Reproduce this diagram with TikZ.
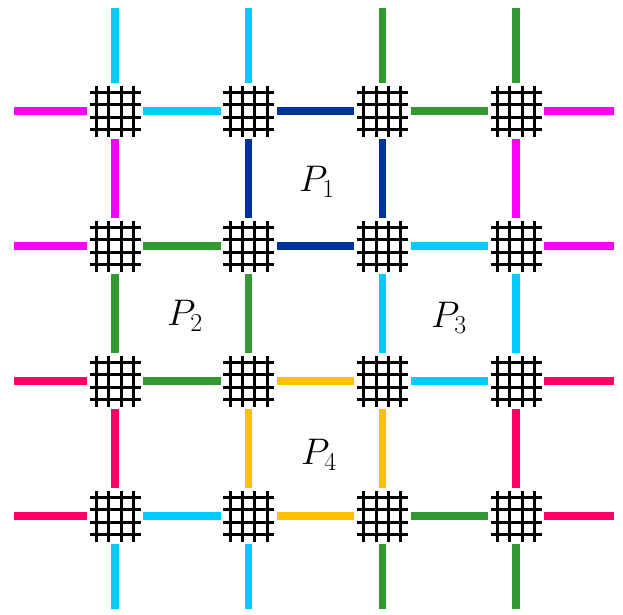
\RequirePackage{fix-cm}
\documentclass[tikz,border=0pt]{standalone}
\definecolor{cyanlink}{RGB}{0,204,255}
\definecolor{pinklink}{RGB}{255,0,255}
\definecolor{navylink}{RGB}{0,51,153}
\definecolor{greenlink}{RGB}{51,153,51}
\definecolor{redlink}{RGB}{255,0,102}
\definecolor{amberlink}{RGB}{255,192,0}
\usepackage{tikz}

\tikzset{
  router/.style={rectangle,minimum size=56pt,inner sep=0pt,fill=white,
    path picture={
      \foreach \o in {-18.5,-6.2,6.2,18.5}{
        \draw[line width=3pt,shift={(path picture bounding box.center)}] (\o,-25.5) -- (\o,25.5);
        \draw[line width=3pt,shift={(path picture bounding box.center)}] (-25.5,\o) -- (25.5,\o);
      }
    }},
  link/.style={line width=7.5pt,#1},
  plabel/.style={font=\fontsize{37}{40}\selectfont}
}

\begin{document}
\begin{tikzpicture}[x=1pt,y=-1pt]
  \useasboundingbox (0,0) rectangle (623,614);
  % routers
  \foreach \i in {1,...,4}
    \foreach \j in {1,...,4}
      \node[router] (r\i\j) at ({115+133.7*(\j-1)},{111+135*(\i-1)}) {};
  % free ends of the outer links
  \foreach \i in {1,...,4}{
    \coordinate (w\i) at (14,{111+135*(\i-1)});
    \coordinate (e\i) at (614,{111+135*(\i-1)});
    \coordinate (n\i) at ({115+133.7*(\i-1)},8);
    \coordinate (s\i) at ({115+133.7*(\i-1)},609);
  }
  % horizontal links
  \foreach \a/\b/\c in {w1/r11/pinklink, r11/r12/cyanlink, r12/r13/navylink, r13/r14/greenlink, r14/e1/pinklink,
                        w2/r21/pinklink, r21/r22/greenlink, r22/r23/navylink, r23/r24/cyanlink, r24/e2/pinklink,
                        w3/r31/redlink, r31/r32/greenlink, r32/r33/amberlink, r33/r34/cyanlink, r34/e3/redlink,
                        w4/r41/redlink, r41/r42/cyanlink, r42/r43/amberlink, r43/r44/greenlink, r44/e4/redlink}
    \draw[link=\c] (\a) -- (\b);
  % vertical links
  \foreach \a/\b/\c in {n1/r11/cyanlink, r11/r21/pinklink, r21/r31/greenlink, r31/r41/redlink, r41/s1/cyanlink,
                        n2/r12/cyanlink, r12/r22/navylink, r22/r32/greenlink, r32/r42/amberlink, r42/s2/cyanlink,
                        n3/r13/greenlink, r13/r23/navylink, r23/r33/cyanlink, r33/r43/amberlink, r43/s3/greenlink,
                        n4/r14/greenlink, r14/r24/pinklink, r24/r34/cyanlink, r34/r44/redlink, r44/s4/greenlink}
    \draw[link=\c] (\a) -- (\b);
  % partitions
  \node[plabel] (p1) at (317,182) {$P_1$};
  \node[plabel] (p2) at (185,316) {$P_2$};
  \node[plabel] (p3) at (449,318) {$P_3$};
  \node[plabel] (p4) at (319,455) {$P_4$};
\end{tikzpicture}
\end{document}
